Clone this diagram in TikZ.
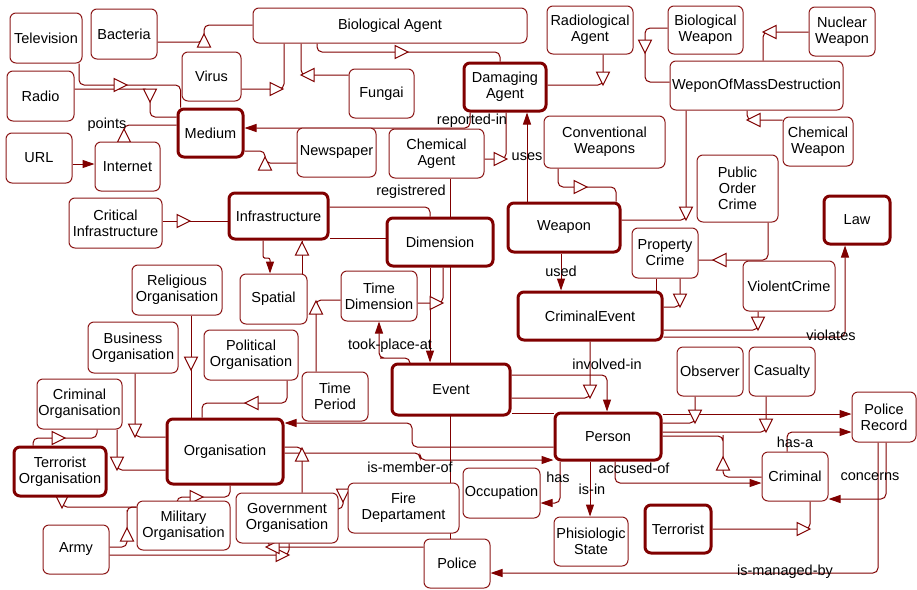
\documentclass[tikz,border=0pt]{standalone}
\usepackage{fontspec}
\setmainfont{Liberation Sans}
\usetikzlibrary{arrows.meta,calc}
\definecolor{edgered}{RGB}{128,0,0}
\pgfdeclarelayer{bg}
\pgfdeclarelayer{mid}
\pgfsetlayers{bg,mid,main}
% open triangles (is-a markers), tip at (#1,#2)
\newcommand\genR[2]{\filldraw[tri] (#1,#2) -- (#1-13,#2-6.5) -- (#1-13,#2+6.5) -- cycle;}
\newcommand\genL[2]{\filldraw[tri] (#1,#2) -- (#1+13,#2-6.5) -- (#1+13,#2+6.5) -- cycle;}
\newcommand\genU[2]{\filldraw[tri] (#1,#2) -- (#1-6.5,#2+13) -- (#1+6.5,#2+13) -- cycle;}
\newcommand\genD[2]{\filldraw[tri] (#1,#2) -- (#1-6.5,#2-13) -- (#1+6.5,#2-13) -- cycle;}
\tikzset{
  box/.style={draw=edgered!90, fill=white, rounded corners=6pt, line width=1pt,
    align=center, inner sep=0pt, font=\fontsize{14.5}{16}\selectfont},
  heavy/.style={box, draw=edgered, line width=3pt},
  conn/.style={draw=edgered, line width=1pt, rounded corners=5pt},
  rel/.style={conn, -{Triangle[length=12pt,width=8pt]}},
  tri/.style={draw=edgered, fill=white, line width=1pt, line join=miter},
  lbl/.style={inner sep=0pt, font=\fontsize{14.5}{16}\selectfont},
}
\begin{document}
\begin{tikzpicture}[x=1pt,y=-1pt]
\useasboundingbox (0,0) rectangle (917,589);
% ---------- classes ----------
\node[box, minimum width=72pt, minimum height=50pt] (tv) at (46,38) {Television};
\node[box, minimum width=66pt, minimum height=50pt] (bact) at (124,34) {Bacteria};
\node[box, minimum width=274pt, minimum height=35pt] (bioag) at (390,25.5) {Biological Agent};
\node[box, minimum width=59pt, minimum height=49pt] (virus) at (211.5,76.5) {Virus};
\node[box, minimum width=67pt, minimum height=50pt] (radio) at (40.5,96) {Radio};
\node[heavy, minimum width=65pt, minimum height=48pt] (medium) at (210.5,133) {Medium};
\node[box, minimum width=66pt, minimum height=50pt] (url) at (39,158) {URL};
\node[box, minimum width=65pt, minimum height=49pt] (internet) at (127.5,166.5) {Internet};
\node[box, minimum width=79pt, minimum height=49pt] (news) at (336.5,152.5) {Newspaper};
\node[box, minimum width=65pt, minimum height=49pt] (fungai) at (381.5,93.5) {Fungai};
\node[heavy, minimum width=82pt, minimum height=48pt] (dmg) at (505,87) {Damaging\\Agent};
\node[box, minimum width=95pt, minimum height=49pt] (chemag) at (436.5,153.5) {Chemical\\Agent};
\node[box, minimum width=86pt, minimum height=48pt] (radag) at (590,30) {Radiological\\Agent};
\node[box, minimum width=75pt, minimum height=48pt] (bioweap) at (705.5,30) {Biological\\Weapon};
\node[box, minimum width=66pt, minimum height=49pt] (nucweap) at (842,31.5) {Nuclear\\Weapon};
\node[box, minimum width=173pt, minimum height=49pt] (wmd) at (756.5,85.5) {WeponOfMassDestruction};
\node[box, minimum width=70pt, minimum height=49pt] (chemweap) at (818,141.5) {Chemical\\Weapon};
\node[box, minimum width=121pt, minimum height=52pt] (conv) at (604.5,142) {Conventional\\Weapons};
\node[box, minimum width=81pt, minimum height=67pt] (poc) at (737.5,188.5) {Public\\Order\\Crime};
\node[heavy, minimum width=112pt, minimum height=49pt] (weapon) at (564,227.5) {Weapon};
\node[box, minimum width=66pt, minimum height=50pt] (propcrime) at (665,253) {Property\\Crime};
\node[heavy, minimum width=66pt, minimum height=48pt] (law) at (857,220) {Law};
\node[box, minimum width=92pt, minimum height=50pt] (violent) at (789,286) {ViolentCrime};
\node[heavy, minimum width=144pt, minimum height=48pt] (crimev) at (590,316) {CriminalEvent};
\node[heavy, minimum width=106pt, minimum height=48pt] (dim) at (440,242) {Dimension};
\node[heavy, minimum width=99pt, minimum height=46pt] (infra) at (278.5,216) {Infrastructure};
\node[box, minimum width=93pt, minimum height=50pt] (critinf) at (115.5,223) {Critical\\Infrastructure};
\node[box, minimum width=67pt, minimum height=50pt] (spatial) at (273.5,299) {Spatial};
\node[box, minimum width=76pt, minimum height=50pt] (timedim) at (379,296) {Time\\Dimension};
\node[box, minimum width=90pt, minimum height=50pt] (relig) at (177,290) {Religious\\Organisation};
\node[box, minimum width=90pt, minimum height=51pt] (business) at (133,347.5) {Business\\Organisation};
\node[box, minimum width=94pt, minimum height=50pt] (political) at (251,355) {Political\\Organisation};
\node[box, minimum width=66pt, minimum height=49pt] (timeper) at (335,396.5) {Time\\Period};
\node[heavy, minimum width=118pt, minimum height=51pt] (event) at (451,389.5) {Event};
\node[box, minimum width=85pt, minimum height=50pt] (crimorg) at (79.5,404) {Criminal\\Organisation};
\node[heavy, minimum width=92pt, minimum height=49pt] (terrorg) at (60,471.5) {Terrorist\\Organisation};
\node[heavy, minimum width=116pt, minimum height=65pt] (org) at (225,451.5) {Organisation};
\node[box, minimum width=93pt, minimum height=49pt] (milorg) at (183.5,525.5) {Military\\Organisation};
\node[box, minimum width=66pt, minimum height=49pt] (army) at (76,549.5) {Army};
\node[box, minimum width=102pt, minimum height=50pt] (govorg) at (287,518) {Government\\Organisation};
\node[box, minimum width=111pt, minimum height=50pt] (fire) at (403.5,508) {Fire\\Departament};
\node[box, minimum width=66pt, minimum height=49pt] (police) at (457,563.5) {Police};
\node[box, minimum width=77pt, minimum height=50pt] (occup) at (501.5,493) {Occupation};
\node[heavy, minimum width=106pt, minimum height=47pt] (person) at (608,436.5) {Person};
\node[box, minimum width=74pt, minimum height=49pt] (phisio) at (591,541.5) {Phisiologic\\State};
\node[box, minimum width=66pt, minimum height=49pt] (observer) at (710,371.5) {Observer};
\node[box, minimum width=66pt, minimum height=49pt] (casualty) at (782,371.5) {Casualty};
\node[box, minimum width=64pt, minimum height=50pt] (precord) at (884,417) {Police\\Record};
\node[box, minimum width=66pt, minimum height=49pt] (criminal) at (795,476.5) {Criminal};
\node[heavy, minimum width=66pt, minimum height=48pt] (terrorist) at (678,529) {Terrorist};

% ---------- connectors ----------
\begin{pgfonlayer}{bg}
\fill[white] (0,0) rectangle (917,589);
% media
\draw[conn] (tv.south -| 79,0) |- (120,85) -| ($(medium.north west)+(4,0)$);
\draw[conn] (radio.east |- 0,89) -| (150,117) -- (medium.west |- 0,117);
\draw[rel] (url.east |- 0,164) -- (internet.west |- 0,164);
\draw[conn] (internet.north -| 124,0) |- (medium.west |- 0,125);
\draw[conn] (news.west |- 0,163) -| (265,151) -- (medium.east |- 0,151);
\draw[rel] (dmg.south -| 470,0) |- (medium.east |- 0,128);
% agents
\draw[conn] (virus.east |- 0,89) -| (bioag.south -| 284,0);
\draw[conn] (bact.east |- 0,42) -| (204,25) -- (bioag.west |- 0,25);
\draw[conn] (fungai.west |- 0,75) -| (bioag.south -| 301,0);
\draw[conn] (bioag.south -| 317,0) |- (400,52) -| (dmg.north -| 500,0);
\draw[conn] (radag.south -| 603,0) |- (dmg.east |- 0,85);
\draw[conn] (chemag.east |- 0,159) -| (dmg.south -| 506,0);
\draw[rel] (weapon.north -| 527,0) -- (dmg.south -| 527,0);
% weapons
\draw[conn] (conv.south -| 558,0) |- (590,187) -| (weapon.north -| 616,0);
\draw[conn] (wmd.south -| 686,0) |- (weapon.east |- 0,220);
\draw[conn] (bioweap.west |- 0,28) -| (645,60) |- (wmd.west |- 0,82);
\draw[conn] (nucweap.west |- 0,32) -| (wmd.north -| 763,0);
\draw[conn] (chemweap.west |- 0,120) -| (wmd.south -| 747,0);
% crimes
\draw[conn] (poc.south -| 768,0) |- (propcrime.east |- 0,260);
\draw[conn] (propcrime.south -| 680,0) |- (crimev.east |- 0,307);
\draw[conn] (propcrime.south -| 656,0) -- (crimev.north -| 656,0);
\draw[conn] (violent.south -| 758,0) |- (crimev.east |- 0,330);
\draw[rel] (crimev.east |- 0,337) -| (law.south -| 845,0);
\draw[rel] (weapon.south -| 561,0) -- (crimev.north -| 561,0);
\draw[conn] (crimev.south -| 590,0) |- (event.east |- 0,398);
% persons
\draw[rel] (event.east |- 0,375) -| (person.north -| 607,0);
\draw[conn] (event.east |- 0,413) -- (person.west |- 0,413);
\draw[rel] (person.south -| 560,0) |- (occup.east |- 0,503);
\draw[rel] (person.south -| 590,0) -- (phisio.north -| 590,0);
\draw[rel] (person.south -| 615,0) |- (criminal.west |- 0,483);
\draw[conn] (criminal.west |- 0,477) -| (723,440) |- (person.east |- 0,436);
\draw[conn] (observer.south -| 695,0) |- (person.east |- 0,423);
\draw[conn] (casualty.south -| 766,0) |- (person.east |- 0,432);
\draw[rel] (person.east |- 0,414) -- (precord.west |- 0,414);
\draw[rel] (criminal.north -| 787,0) |- (precord.west |- 0,432);
\draw[rel] (precord.south -| 886,0) |- (criminal.east |- 0,499);
\draw[rel] (precord.south -| 878,0) |- (police.east |- 0,573);
\draw[conn] (terrorist.east |- 0,529) -| (criminal.south -| 810,0);
% organisations
\draw[conn] (relig.south -| 191,0) -- (org.north -| 191,0);
\draw[conn] (business.south -| 135,0) |- (org.west |- 0,437);
\draw[conn] (crimorg.south -| 117,0) |- (org.west |- 0,470);
\draw[conn] (terrorg.north -| 33,0) |- (70,438) -| (crimorg.south -| 97,0);
\draw[conn] (milorg.north -| 177,0) |- (210,497) -| (org.south -| 230,0);
\draw[conn] (army.east |- 0,547) -| (127,515) |- (milorg.west |- 0,507);
\draw[conn] (milorg.west |- 0,507) -| (terrorg.south -| 62,0);
\draw[conn] (army.east |- 0,555) -| (govorg.south -| 289,0);
\draw[conn] (police.west |- 0,547) -| (govorg.south -| 268,0);
\draw[conn] (fire.west |- 0,489) -| (343,509) -- (govorg.east |- 0,509);
\draw[conn] (govorg.north -| 302,0) |- (org.east |- 0,447);
\draw[rel] (org.east |- 0,453) -| (420,460) -- (person.west |- 0,460);
\draw[rel] (person.west |- 0,447) -| (412,423) -- (org.east |- 0,423);
\draw[conn] (political.south -| 287,0) |- (245,403) -| (org.north -| 202,0);
% dimensions
\draw[conn] (timeper.north -| 316,0) |- (timedim.west |- 0,300);
\draw[rel] (event.north -| 410,0) |- (385,358) -| (timedim.south -| 379,0);
\draw[rel] (dim.south -| 430,0) -- (event.north -| 430,0);
\draw[conn] (timedim.east |- 0,303) -| (dim.south -| 443,0);
\draw[conn] (chemag.south -| 450,0) -- (police.north -| 450,0);
\draw[conn] (infra.east |- 0,207) -| (dim.north -| 430,0);
\draw[conn] (infra.east |- 0,238) -- (dim.west |- 0,238);
\draw[conn] (critinf.east |- 0,221) -- (infra.west |- 0,221);
\draw[conn, rounded corners=2pt] (infra.south -| 263,0) |- (266,258) -| (270,262);
\draw[rel, rounded corners=0pt] (270,262) -- (spatial.north -| 270,0);
\draw[conn] (spatial.north -| 302,0) -- (infra.south -| 302,0);
\end{pgfonlayer}

% ---------- is-a markers ----------
\begin{pgfonlayer}{mid}
\genR{127}{85}
\genD{150}{102}
\genU{124}{129}
\genU{265}{157}
\genR{283}{89}
\genU{204}{34}
\genL{301}{75}
\genR{408}{52}
\genD{603}{85}
\genR{507}{159}
\genR{587}{187}
\genD{686}{220}
\genD{645}{53}
\genL{763}{32}
\genL{747}{120}
\genL{713}{260}
\genD{680}{307}
\genD{758}{330}
\genD{590}{398}
\genU{723}{457}
\genD{695}{423}
\genD{766}{432}
\genR{810}{529}
\genD{191}{370}
\genD{135}{437}
\genD{117}{470}
\genR{65}{438}
\genR{203}{497}
\genU{127}{528}
\genD{62}{508}
\genR{289}{555}
\genL{266}{547}
\genD{343}{502}
\genU{302}{448}
\genL{245}{403}
\genU{316}{301}
\genR{443}{303}
\genR{190}{221}
\genU{302}{242}
\end{pgfonlayer}

% ---------- relation names ----------
\node[lbl] (l-points) at (107,125) {points};
\node[lbl] (l-reported) at (472,121) {reported-in};
\node[lbl] (l-uses) at (527,157) {uses};
\node[lbl] (l-regis) at (411,192) {registrered};
\node[lbl] (l-used) at (561,271) {used};
\node[lbl] (l-took) at (390,346) {took-place-at};
\node[lbl] (l-involved) at (607,364) {involved-in};
\node[lbl] (l-violates) at (831,335) {violates};
\node[lbl] (l-hasa) at (795,442) {has-a};
\node[lbl] (l-concerns) at (870,477) {concerns};
\node[lbl] (l-accused) at (634,468) {accused-of};
\node[lbl] (l-has) at (558,477) {has};
\node[lbl] (l-isin) at (592,489) {is-in};
\node[lbl] (l-member) at (410,467) {is-member-of};
\node[lbl] (l-managed) at (785,572) {is-managed-by};
\end{tikzpicture}
\end{document}
